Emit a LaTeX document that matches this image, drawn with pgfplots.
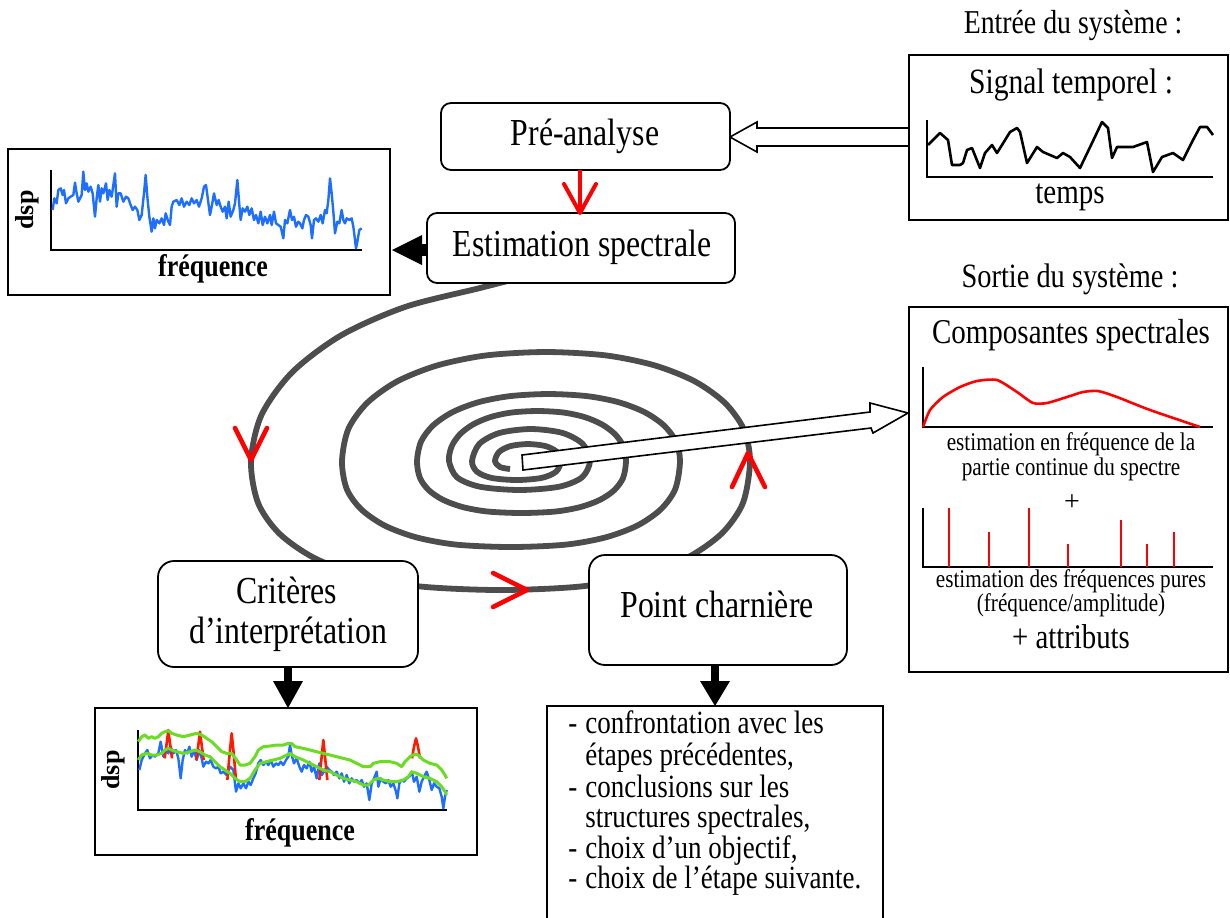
\documentclass[border=0pt]{standalone}
\usepackage{fontspec}
\setmainfont{Liberation Serif}
\usepackage{graphicx}
\usepackage{pgfplots}
\pgfplotsset{compat=1.18}
\definecolor{spir}{HTML}{4D4D4D}
\definecolor{bl}{HTML}{1E6EFF}
\definecolor{gr}{HTML}{6CDC23}
\definecolor{rd}{HTML}{FF1A00}
\newcommand\T[1]{\scalebox{1}[1.2]{#1}}
\pgfplotsset{mini/.style={anchor=north west, scale only axis, hide axis, clip=false}}
\begin{document}
\begin{tikzpicture}
\path[use as bounding box] (0,0) rectangle (615pt,-458.5pt);
% spiral
\begin{axis}[at={(0,0)}, anchor=north west, width=615pt, height=458.5pt, scale only axis,
  xmin=0, xmax=1230, ymin=0, ymax=917, y dir=reverse, hide axis, clip=false]
\addplot[spir, line width=2.9pt, smooth, tension=0.5] coordinates {
(620,252) (580,263) (535,274) (480,288) (405.5,306.8) (341.5,335.1) (292.4,372) (261.5,414.9) (251,461)
(258,502.8) (279.2,533.4) (313.6,557.6) (360.5,575.4) (419.7,586.4) (500.5,590) (581.3,586.4) (640.5,575.4)
(687.4,557.6) (721.8,533.4) (743,502.8) (750,461)
(743.7,429.1) (724.9,402.9) (694.9,381.4) (654.7,365.4) (605.8,355.4) (546,352) (486.2,355.4) (437.3,365.4)
(397.1,381.4) (367.1,402.9) (348.3,429.1) (342,461)
(346.7,488.9) (361.1,509.2) (384.4,525.4) (416.2,537.3) (456.2,544.6) (511,547) (565.8,544.6) (605.8,537.3)
(637.6,525.4) (660.9,509.2) (675.3,488.9) (680,461)
(675.9,441.4) (663.8,425.3) (644.5,412.1) (618.6,402.2) (587,396.1) (548.5,394) (510,396.1) (478.4,402.2)
(452.5,412.1) (433.2,425.3) (421.1,441.4) (417,461)
(419.9,477.8) (428.8,490.2) (443.2,499.9) (462.9,507.1) (487.6,511.5) (521.5,513) (555.4,511.5) (580.1,507.1)
(599.8,499.9) (614.2,490.2) (623.1,477.8) (626,461)
(623.3,446.3) (615.1,434.3) (602.1,424.5) (584.7,417.1) (563.4,412.5) (537.5,411) (511.6,412.5) (490.3,417.1)
(472.9,424.5) (459.9,434.3) (451.7,446.3) (449,461)
(457,477.3) (479.9,486.7) (519.5,490) (559.1,486.7) (582,477.3) (590,461)
(582.7,443.9) (562.4,432.9) (531,429) (499.6,432.9) (479.3,443.9) (472,461)
(477,471.7) (491.5,477.9) (516.5,480) (541.5,477.9) (556,471.7) (561,461)
(556.9,451.9) (545.6,446.1) (528,444) (510.4,446.1) (499.1,451.9) (495,461) (500,467) (510,469)};
\end{axis}
\begin{scope}[x=0.5pt,y=-0.5pt]
% red markers on spiral
\draw[red, line width=2.3pt, line cap=round, line join=round] (235,428) -- (251,460) -- (267,428);
\draw[red, line width=2.3pt, line cap=round, line join=round] (493,573) -- (527,590) -- (493,607);
\draw[red, line width=2.3pt, line cap=round, line join=round] (732,487) -- (748,453) -- (765,487);
% big white arrow from spiral centre
\draw[fill=white, line width=0.8pt, line join=miter] (522,455) -- (870,412) -- (870,403) -- (908,413)
  -- (873,433) -- (871,428) -- (523,470) -- cycle;
% open arrow input -> pre-analyse
\draw[fill=white, line width=0.8pt] (730,137) -- (757,122) -- (757,128) -- (909,128) -- (909,146)
  -- (757,146) -- (757,152) -- cycle;
% boxes
\draw[fill=white, line width=0.9pt, rounded corners=5pt] (441,103) rectangle (730,170);
\draw[fill=white, line width=0.9pt, rounded corners=5pt] (427,213) rectangle (735,283);
\draw[fill=white, line width=0.9pt, rounded corners=8pt] (158,561) rectangle (418,667);
\draw[fill=white, line width=0.9pt, rounded corners=8pt] (589,555) rectangle (847,665);
\draw[fill=white, line width=1pt] (909,55) rectangle (1228,220);
\draw[fill=white, line width=1pt] (909,307) rectangle (1228,672);
\draw[fill=white, line width=1.1pt] (8,149) rectangle (390,295);
\draw[fill=white, line width=1.1pt] (95,708) rectangle (477,855);
\draw[line width=1pt] (547,930) -- (547,706) -- (883,706) -- (883,930);
% red arrow pre-analyse -> estimation
\draw[red, line width=2pt] (580,170) -- (580,212);
\draw[red, line width=2pt, line cap=round, line join=round] (564,184) -- (580,213) -- (596,184);
% black arrows
\fill (392,250) -- (422,235) -- (422,265) -- cycle;
\fill (421,244) rectangle (428,256);
\fill (284,667) rectangle (292,682);
\fill (273,681) -- (303,681) -- (288,708) -- cycle;
\fill (711,665) rectangle (719,682);
\fill (700,681) -- (730,681) -- (715,706) -- cycle;
% mini axes lines
\draw[line width=1.1pt] (51,170) -- (51,250) -- (362,250);
\draw[line width=1.1pt] (138,730) -- (138,810) -- (447,810);
\draw[line width=1.2pt] (927,120) -- (927,177) -- (1213,177);
\draw[line width=1.2pt] (923,367) -- (923,427) -- (1213,427);
\draw[line width=1.2pt] (923,508) -- (923,567) -- (1213,567);
% texts
\node[anchor=base, inner sep=0, font=\fontsize{15.9}{19}\selectfont] at (585,145) {\T{Pré-analyse}};
\node[anchor=base, inner sep=0, font=\fontsize{15.9}{19}\selectfont] at (582,256) {\T{Estimation spectrale}};
\node[anchor=base, inner sep=0, font=\fontsize{15.9}{19}\selectfont] at (287,603) {\T{Critères}};
\node[anchor=base, inner sep=0, font=\fontsize{15.9}{19}\selectfont] at (288,643) {\T{d’interprétation}};
\node[anchor=base, inner sep=0, font=\fontsize{15.9}{19}\selectfont] at (717,617) {\T{Point charnière}};
\node[anchor=base, inner sep=0, font=\fontsize{13.9}{16}\selectfont] at (1073,33) {\T{Entrée du système :}};
\node[anchor=base, inner sep=0, font=\fontsize{14.8}{17}\selectfont] at (1071,93) {\T{Signal temporel :}};
\node[anchor=base, inner sep=0, font=\fontsize{14.5}{17}\selectfont] at (1070,203) {\T{temps}};
\node[anchor=base, inner sep=0, font=\fontsize{14.2}{17}\selectfont] at (1070,287) {\T{Sortie du système :}};
\node[anchor=base, inner sep=0, font=\fontsize{14.5}{17}\selectfont] at (1071,343) {\T{Composantes spectrales}};
\node[anchor=base, inner sep=0, font=\fontsize{10.6}{13}\selectfont] at (1071,450) {\T{estimation en fréquence de la}};
\node[anchor=base, inner sep=0, font=\fontsize{10.6}{13}\selectfont] at (1071,475) {\T{partie continue du spectre}};
\node[inner sep=0, font=\fontsize{14}{16}\selectfont] at (1072,503) {+};
\node[anchor=base, inner sep=0, font=\fontsize{10.6}{13}\selectfont] at (1071,587) {\T{estimation des fréquences pures}};
\node[anchor=base, inner sep=0, font=\fontsize{10.6}{13}\selectfont] at (1071,611) {\T{(fréquence/amplitude)}};
\node[anchor=base, inner sep=0, font=\fontsize{14.4}{17}\selectfont] at (1071,648) {\T{+ attributs}};
\node[anchor=base, inner sep=0, font=\fontsize{13}{15}\selectfont\bfseries] at (213,276) {\T{fréquence}};
\node[inner sep=0, rotate=90, font=\fontsize{13}{15}\selectfont\bfseries] at (27,210) {dsp};
\node[anchor=base, inner sep=0, font=\fontsize{13}{15}\selectfont\bfseries] at (300,840) {\T{fréquence}};
\node[inner sep=0, rotate=90, font=\fontsize{13}{15}\selectfont\bfseries] at (113,770) {dsp};
% list
\foreach \y/\d/\t in {733/-/confrontation avec les, 765//étapes précédentes{,}, 797/-/conclusions sur les,
  827//structures spectrales{,}, 858/-/choix d’un objectif{,}, 888/-/choix de l’étape suivante.}{
  \node[anchor=base west, inner sep=0, font=\fontsize{13.5}{16}\selectfont] at (568,\y) {\T{\d}};
  \node[anchor=base west, inner sep=0, font=\fontsize{13.5}{16}\selectfont] at (585,\y) {\T{\t}};
}
\end{scope}
% ---- top-left spectrum
\begin{axis}[mini, at={(25.33pt,-85pt)}, width=155.5pt, height=40pt,
  xmin=152, xmax=1085, ymin=90, ymax=330, y dir=reverse]
\addplot[bl, line width=1.2pt, line join=round] coordinates {
(158,210) (163,175) (170,190) (175,150) (182,145) (188,165) (192,150) (198,190) (205,175) (212,170)
(220,165) (225,128) (230,160) (235,185) (240,175) (245,165) (250,95) (255,150) (260,130) (265,155)
(272,140) (278,160) (285,230) (290,175) (295,135) (300,185) (305,145) (310,160) (318,130) (323,180)
(328,150) (335,170) (345,100) (350,200) (355,160) (362,160) (370,185) (378,170) (385,175) (392,195)
(398,210) (405,200) (412,210) (418,240) (425,225) (432,160) (437,105) (442,170) (448,230) (455,275)
(460,235) (465,265) (470,240) (478,250) (485,235) (492,255) (497,220) (505,245) (510,255) (515,200)
(520,185) (530,180) (538,195) (545,175) (552,200) (560,185) (568,195) (575,175) (582,190) (590,180)
(597,200) (605,175) (612,140) (618,135) (624,180) (630,225) (636,195) (642,160) (650,195) (656,180)
(662,200) (668,215) (675,200) (680,235) (686,185) (692,230) (700,210) (705,190) (712,120) (718,195)
(722,240) (728,205) (735,215) (742,200) (748,225) (755,205) (762,240) (768,225) (775,250) (782,215)
(788,255) (795,230) (802,250) (810,225) (815,255) (822,215) (828,250) (835,255) (842,260) (850,295)
(855,240) (862,250) (870,210) (876,240) (882,230) (888,260) (895,245) (900,250) (907,265) (912,240)
(918,225) (925,230) (932,255) (936,295) (942,240) (948,235) (955,245) (962,225) (968,250) (975,210)
(980,220) (985,180) (990,115) (995,160) (1000,215) (1005,280) (1012,245) (1018,250) (1025,210) (1030,240)
(1035,250) (1040,235) (1048,240) (1055,235) (1060,260) (1065,300) (1068,325) (1072,305) (1078,270) (1085,265)};
\end{axis}
% ---- bottom-left spectrum with peaks and envelopes
\begin{axis}[mini, at={(69.17pt,-365pt)}, width=154.17pt, height=40pt,
  xmin=145, xmax=1070, ymin=90, ymax=330, y dir=reverse]
\addplot[bl, line width=1.2pt, line join=round] coordinates {
(148,210) (155,180) (165,160) (172,150) (180,175) (188,165) (195,170) (205,160) (212,125) (220,170)
(228,150) (235,160) (242,140) (250,160) (258,150) (265,175) (272,235) (278,180) (285,150) (292,160)
(298,140) (305,170) (312,150) (320,180) (328,150) (335,175) (340,200) (348,185) (355,190) (362,180)
(370,200) (378,205) (385,200) (392,220) (400,215) (410,225) (420,200) (430,210) (438,275) (445,250)
(452,265) (460,250) (468,265) (475,245) (482,255) (490,235) (497,220) (505,190) (512,180) (520,195)
(528,185) (535,195) (542,180) (550,200) (558,190) (565,195) (572,185) (580,195) (588,180) (595,170)
(600,135) (605,165) (612,190) (620,175) (628,200) (635,215) (642,195) (650,205) (658,185) (665,215)
(672,200) (680,235) (688,190) (695,225) (702,215) (710,200) (718,210) (725,215) (732,225) (740,215)
(748,235) (755,220) (762,245) (770,225) (778,250) (785,235) (792,245) (800,240) (808,250) (815,240)
(822,260) (830,250) (838,300) (845,250) (852,235) (860,215) (865,260) (872,235) (880,245) (888,250)
(895,240) (902,260) (910,250) (918,275) (922,295) (928,250) (935,240) (942,245) (950,235) (958,230)
(965,215) (972,245) (980,230) (988,275) (995,245) (1002,230) (1010,215) (1018,240) (1025,270) (1032,250)
(1040,260) (1048,265) (1055,290) (1060,325) (1065,290) (1070,270)};
\addplot[rd, line width=1.3pt, line join=round] coordinates {(224,175) (230,130) (235,90) (240,130) (246,175)};
\addplot[rd, line width=1.3pt, line join=round] coordinates {(319,180) (325,135) (330,95) (335,135) (341,180)};
\addplot[rd, line width=1.3pt, line join=round] coordinates {(412,240) (419,160) (425,100) (431,160) (438,240)};
\addplot[rd, line width=1.3pt, line join=round] coordinates {(688,240) (695,170) (700,120) (705,170) (712,240)};
\addplot[rd, line width=1.3pt, line join=round] coordinates {(966,175) (972,140) (978,115) (984,140) (990,175)};
\addplot[gr, line width=1.5pt, line join=round] coordinates {
(145,125) (155,110) (165,105) (175,115) (185,110) (195,115) (205,110) (215,100) (225,95) (235,92)
(245,100) (260,105) (280,110) (300,105) (320,100) (335,105) (350,115) (365,125) (380,140) (395,155)
(410,160) (425,160) (440,180) (450,195) (465,195) (480,190) (495,170) (505,150) (520,140) (540,138)
(560,135) (580,135) (595,130) (605,130) (615,140) (640,145) (660,150) (680,155) (700,160) (720,165)
(740,170) (760,175) (780,180) (800,190) (820,200) (840,200) (850,190) (870,185) (900,185) (920,190)
(935,200) (945,185) (960,170) (975,162) (985,165) (1000,180) (1020,190) (1040,195) (1055,210) (1065,225) (1070,235)};
\addplot[gr, line width=1.5pt, line join=round] coordinates {
(145,180) (155,165) (170,160) (185,165) (200,165) (215,160) (225,150) (235,145) (245,150) (260,155)
(280,160) (300,155) (315,150) (330,155) (345,165) (360,170) (375,185) (390,200) (405,210) (420,220)
(435,235) (450,245) (465,245) (480,235) (495,210) (510,190) (530,185) (550,180) (570,175) (590,165)
(600,160) (615,170) (640,180) (660,190) (680,200) (700,210) (720,215) (740,225) (760,235) (780,240)
(800,245) (820,255) (835,255) (850,240) (865,235) (880,240) (900,245) (920,245) (940,240) (955,230)
(965,215) (980,220) (1000,230) (1020,235) (1040,245) (1055,260) (1065,275) (1070,285)};
\end{axis}
% ---- input time signal
\begin{axis}[mini, at={(463.5pt,-60pt)}, width=143pt, height=28.5pt,
  xmin=927, xmax=1213, ymin=120, ymax=177, y dir=reverse]
\addplot[black, line width=1.3pt, line join=round] coordinates {
(928,145) (940,133) (948,140) (952,165) (960,165) (963,163) (967,150) (972,148) (980,168) (985,153)
(992,145) (997,153) (1010,132) (1017,128) (1020,132) (1027,163) (1037,147) (1043,152) (1057,158)
(1063,153) (1070,157) (1080,168) (1092,143) (1102,122) (1108,128) (1112,158) (1117,147) (1133,147)
(1147,142) (1153,172) (1162,157) (1173,153) (1183,160) (1193,140) (1200,127) (1207,127) (1213,135)};
\end{axis}
% ---- continuous part estimate
\begin{axis}[mini, at={(461.5pt,-183.5pt)}, width=145pt, height=30pt,
  xmin=923, xmax=1213, ymin=367, ymax=427, y dir=reverse]
\addplot[red, line width=1.3pt, smooth, tension=0.4] coordinates {
(923,427) (930,410) (943,397) (960,387) (977,381) (997,380) (1017,392) (1033,403) (1047,403)
(1067,397) (1083,392) (1098,391) (1117,397) (1150,410) (1200,427)};
\end{axis}
% ---- pure frequencies
\begin{axis}[mini, at={(461.5pt,-254pt)}, width=145pt, height=29.5pt,
  xmin=923, xmax=1213, ymin=0, ymax=59]
\addplot[red, line width=1.3pt, ycomb] coordinates {
(949,59) (989,35) (1029,59) (1068,23) (1121,47) (1147,23) (1174,35)};
\end{axis}
\end{tikzpicture}
\end{document}
